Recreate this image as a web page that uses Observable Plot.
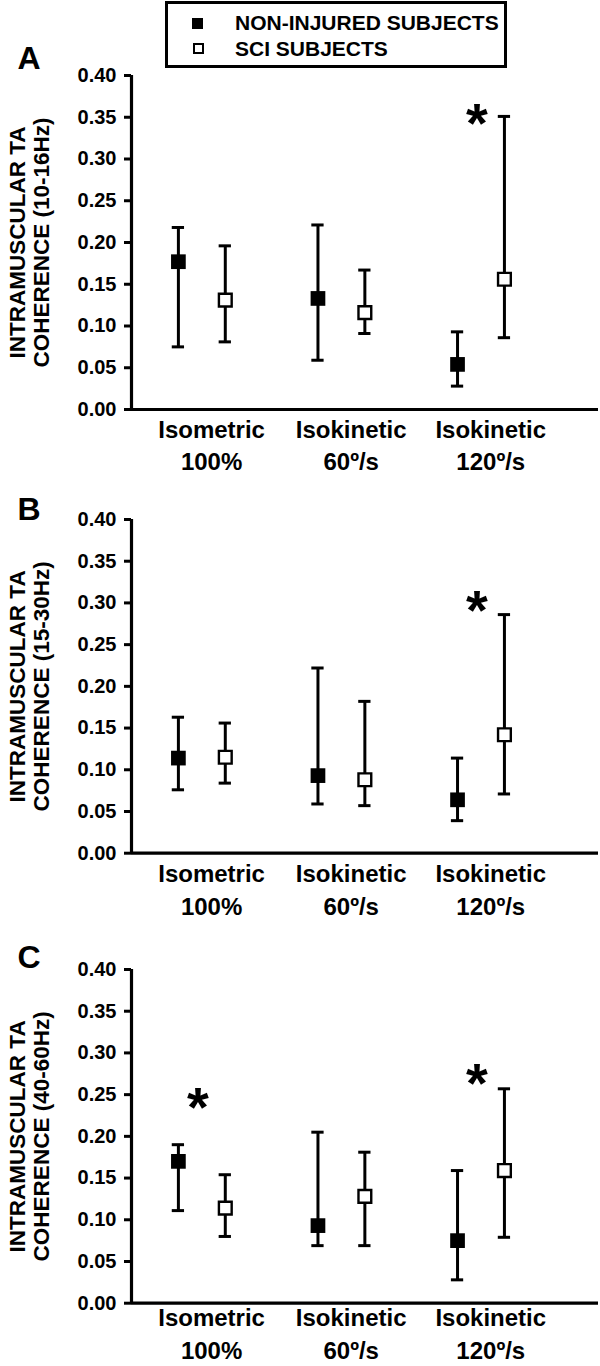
<!DOCTYPE html>
<html>
<head>
<meta charset="utf-8">
<script src="https://cdn.jsdelivr.net/npm/d3@7"></script>
<script src="https://cdn.jsdelivr.net/npm/@observablehq/plot@0.6"></script>
<style>
  html, body { margin: 0; padding: 0; background: #fff; }
  #root { position: relative; width: 600px; height: 1366px; overflow: hidden; font-family: "Liberation Sans", Arial, sans-serif; }
  .abs { position: absolute; left: 0; }
</style>
</head>
<body>
<div id="root"></div>
<script>
// ---- Data ----
const groups = ["Isometric\n100%", "Isokinetic\n60º/s", "Isokinetic\n120º/s"];
const seriesNames = ["NON-INJURED SUBJECTS", "SCI SUBJECTS"];
const yTicks = [0, 0.05, 0.10, 0.15, 0.20, 0.25, 0.30, 0.35, 0.40];
const panelLetters = ["A", "B", "C"];
const panelTitles = [
  "INTRAMUSCULAR TA\nCOHERENCE (10-16Hz)",
  "INTRAMUSCULAR TA\nCOHERENCE (15-30Hz)",
  "INTRAMUSCULAR TA\nCOHERENCE (40-60Hz)"
];

// Panel A (10-16 Hz)
const aNonMean = [0.177, 0.133, 0.054];
const aNonLo   = [0.075, 0.059, 0.028];
const aNonHi   = [0.218, 0.221, 0.093];
const aSciMean = [0.131, 0.116, 0.156];
const aSciLo   = [0.081, 0.091, 0.086];
const aSciHi   = [0.196, 0.167, 0.351];
const aStars   = [{group: 2, value: 0.356}];

// Panel B (15-30 Hz)
const bNonMean = [0.114, 0.093, 0.064];
const bNonLo   = [0.076, 0.059, 0.039];
const bNonHi   = [0.163, 0.222, 0.114];
const bSciMean = [0.115, 0.088, 0.142];
const bSciLo   = [0.084, 0.057, 0.071];
const bSciHi   = [0.156, 0.182, 0.286];
const bStars   = [{group: 2, value: 0.305}];

// Panel C (40-60 Hz)
const cNonMean = [0.170, 0.093, 0.075];
const cNonLo   = [0.111, 0.069, 0.028];
const cNonHi   = [0.190, 0.205, 0.159];
const cSciMean = [0.114, 0.128, 0.159];
const cSciLo   = [0.080, 0.069, 0.079];
const cSciHi   = [0.154, 0.181, 0.257];
const cStars   = [{group: 0, value: 0.248}, {group: 2, value: 0.277}];

// ---- Layout constants ----
const FONT = '"Liberation Sans", Arial, sans-serif';
const OFF = 0.168;      // within-group offset (in group units)
const CAP = 0.044;      // error bar cap half-width (in group units)
const XDOM = [-0.504, 2.842];

function rows(nonMean, nonLo, nonHi, sciMean, sciLo, sciHi) {
  const out = [];
  groups.forEach((g, i) => {
    out.push({s: 0, x: i - OFF, mean: nonMean[i], lo: nonLo[i], hi: nonHi[i]});
    out.push({s: 1, x: i + OFF, mean: sciMean[i], lo: sciLo[i], hi: sciHi[i]});
  });
  return out;
}

const panels = [
  {top: 0,   height: 470, mt: 75, mb: 61,   data: rows(aNonMean, aNonLo, aNonHi, aSciMean, aSciLo, aSciHi), stars: aStars, letterDy: -7, labelDy: 5},
  {top: 470, height: 450, mt: 49, mb: 67.3, data: rows(bNonMean, bNonLo, bNonHi, bSciMean, bSciLo, bSciHi), stars: bStars, letterDy: 0, labelDy: 6},
  {top: 920, height: 446, mt: 49, mb: 63.3, data: rows(cNonMean, cNonLo, cNonHi, cSciMean, cSciLo, cSciHi), stars: cStars, letterDy: -2, labelDy: 0}
];

const root = document.getElementById("root");

panels.forEach((p, k) => {
  const chart = Plot.plot({
    width: 600,
    height: p.height,
    marginTop: p.mt,
    marginBottom: p.mb,
    marginLeft: 131,
    marginRight: 2,
    x: {type: "linear", domain: XDOM, axis: null},
    y: {domain: [0, 0.4], axis: null},
    style: {fontFamily: FONT, fontWeight: "bold", color: "#000", background: "transparent", overflow: "visible"},
    marks: [
      Plot.axisY({ticks: yTicks, tickFormat: d3.format(".2f"), tickSize: 7, tickPadding: 8,
                  fontSize: 20, fontWeight: "bold", strokeWidth: 3, label: null}),
      Plot.ruleX([XDOM[0]], {y1: 0, y2: 0.4, strokeWidth: 3.2, stroke: "#000"}),
      Plot.ruleY([0], {x1: XDOM[0], x2: XDOM[1], strokeWidth: 3.2, stroke: "#000"}),
      // error bars
      Plot.ruleX(p.data, {x: "x", y1: "lo", y2: "hi", stroke: "#000", strokeWidth: 3}),
      Plot.ruleY(p.data, {y: "hi", x1: d => d.x - CAP, x2: d => d.x + CAP, stroke: "#000", strokeWidth: 3}),
      Plot.ruleY(p.data, {y: "lo", x1: d => d.x - CAP, x2: d => d.x + CAP, stroke: "#000", strokeWidth: 3}),
      // markers
      Plot.dot(p.data.filter(d => d.s === 0), {x: "x", y: "mean", symbol: "square", r: 8.3, fill: "#000", stroke: "none"}),
      Plot.dot(p.data.filter(d => d.s === 1), {x: "x", y: "mean", symbol: "square", r: 7.2, fill: "#fff", stroke: "#000", strokeWidth: 2.4}),
      // significance asterisks
      Plot.text(p.stars, {x: d => d.group, y: "value", text: () => "*", fontSize: 56, fontWeight: "bold",
                          lineAnchor: "bottom", dy: 30, dx: -4, fill: "#000"}),
      // category labels
      Plot.text(groups, {x: (d, i) => i + 0.07, y: () => 0, text: d => d, lineAnchor: "top", dy: p.labelDy,
                         fontSize: 24, fontWeight: "bold", lineHeight: 1.35, fill: "#000"}),
      // y title
      Plot.text([panelTitles[k]], {frameAnchor: "left", rotate: -90, dx: -102, text: d => d,
                                   textAnchor: "middle", lineAnchor: "middle",
                                   fontSize: 22.5, fontWeight: "bold", lineHeight: 1.05, fill: "#000"}),
      // panel letter
      Plot.text([panelLetters[k]], {frameAnchor: "top-left", dx: -114, dy: p.letterDy, text: d => d,
                                    textAnchor: "start", lineAnchor: "bottom", fontSize: 32, fontWeight: "bold", fill: "#000"})
    ]
  });
  chart.classList.add("abs");
  chart.style.top = p.top + "px";
  root.appendChild(chart);
});

// ---- Legend (added above the first panel) ----
const ns = "http://www.w3.org/2000/svg";
const leg = document.createElementNS(ns, "svg");
leg.setAttribute("width", 600);
leg.setAttribute("height", 72);
leg.setAttribute("class", "abs");
leg.style.top = "0px";
leg.style.fontFamily = FONT;
leg.innerHTML = `
  <rect x="166.5" y="2.5" width="339" height="64" fill="#fff" stroke="#000" stroke-width="3"/>
  <rect x="192" y="18" width="11" height="11" fill="#000"/>
  <rect x="194" y="44" width="9" height="9" fill="#fff" stroke="#000" stroke-width="2"/>
  <text x="235" y="30" font-size="21" font-weight="bold">${seriesNames[0]}</text>
  <text x="235" y="56" font-size="21" font-weight="bold">${seriesNames[1]}</text>`;
root.appendChild(leg);
</script>
</body>
</html>
